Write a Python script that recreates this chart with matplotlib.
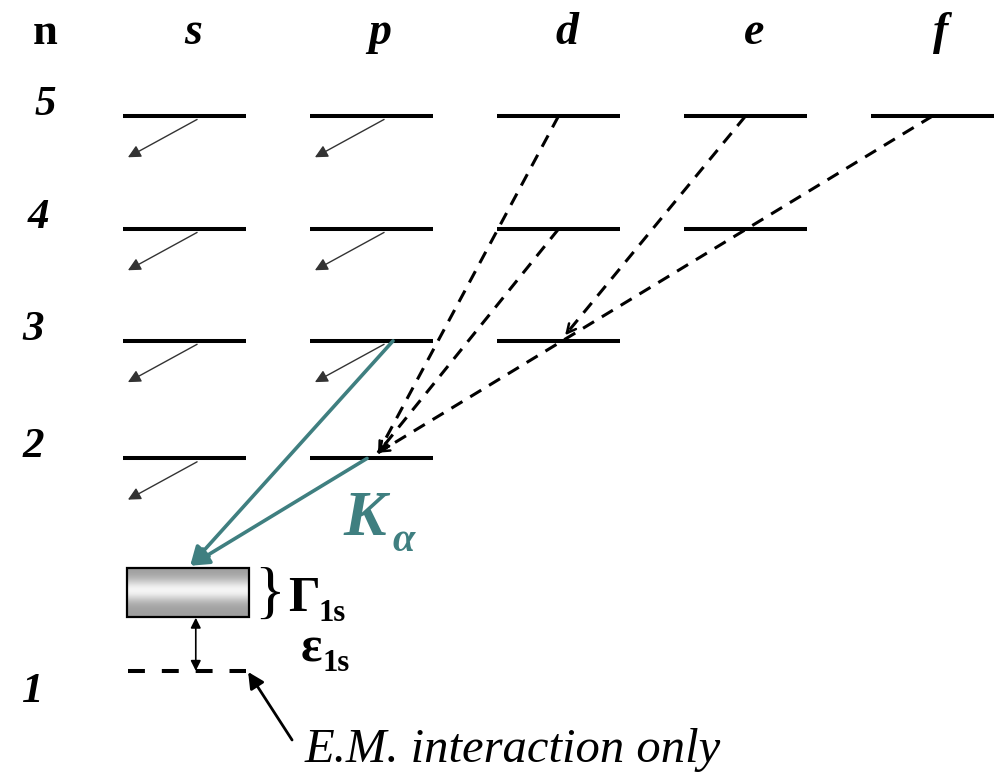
import numpy as np
import matplotlib.pyplot as plt
from matplotlib.patches import Rectangle

# level scheme (arbitrary energy units, higher = less bound)
orbitals = ['s', 'p', 'd', 'e', 'f']
n_values = [5, 4, 3, 2]
level_E = {5: 5.0, 4: 4.0, 3: 3.01, 2: 1.97}
E_1s_em = 0.09          # pure e.m. 1s level
eps_1s = 0.695          # strong-interaction shift (to box centre)
gamma_1s = 0.43         # strong-interaction width

# which sublevels exist for each n
states = {5: ['s', 'p', 'd', 'e', 'f'], 4: ['s', 'p', 'd', 'e'],
          3: ['s', 'p', 'd'], 2: ['s', 'p']}
# Stark-mixing / absorption arrows
stark = [(5, 's'), (4, 's'), (3, 's'), (2, 's'), (5, 'p'), (4, 'p'), (3, 'p')]
# radiative cascade transitions (dashed)
cascade = [((5, 'd'), (2, 'p')), ((4, 'd'), (2, 'p')),
           ((5, 'e'), (3, 'd')), ((5, 'f'), (2, 'p'))]
# X-ray transitions to 1s (teal)
xray = [(3, 'p'), (2, 'p')]

TEAL = '#3f7f80'
SERIF = 'Liberation Serif'
HW = 0.33   # half width of a level bar

col = {o: i for i, o in enumerate(orbitals)}

fig = plt.figure(figsize=(10, 7.74), dpi=100)
ax = fig.add_axes([0, 0, 1, 1])
ax.axis('off')

# level bars
for n in n_values:
    for o in states[n]:
        x = col[o]
        ax.plot([x - HW, x + HW], [level_E[n]] * 2, color='black', lw=2.9,
                solid_capstyle='butt')

# e.m. only 1s level
ax.plot([-0.3, 0.33], [E_1s_em] * 2, color='black', lw=2.9,
        linestyle=(0, (4.2, 4.2)), dash_capstyle='butt')

# shifted + broadened 1s level as a shaded box
E_c = E_1s_em + eps_1s
prof = np.linspace(-1, 1, 200)
grad = 0.62 + 0.34 * np.exp(-((prof + 0.1) / 0.45) ** 2)
ax.imshow(grad[:, None], cmap='gray', vmin=0, vmax=1, aspect='auto',
          extent=[-0.31, 0.345, E_c - gamma_1s / 2, E_c + gamma_1s / 2],
          origin='upper', zorder=2, interpolation='bilinear')
ax.add_patch(Rectangle((-0.31, E_c - gamma_1s / 2), 0.655, gamma_1s,
                       fill=False, ec='black', lw=1.6, zorder=3))
ax.set_xlim(-0.987, 4.361)
ax.set_ylim(-0.823, 6.027)

# Stark arrows
for n, o in stark:
    x0, y0 = col[o] + 0.067, level_E[n] - 0.03
    ax.annotate('', xy=(x0 - 0.37, y0 - 0.335), xytext=(x0, y0),
                arrowprops=dict(arrowstyle='-|>', color='#333333', lw=1.0,
                                mutation_scale=19, shrinkA=0, shrinkB=0))

# radiative cascade: dashed line plus a solid open head
for (n1, o1), (n2, o2) in cascade:
    x1, y1 = col[o1], level_E[n1]
    x2, y2 = col[o2] + 0.035, level_E[n2] + 0.05
    ax.plot([x1, x2], [y1, y2], color='black', lw=2.2,
            linestyle=(0, (4.2, 3.0)))
    ax.annotate('', xy=(x2, y2),
                xytext=(x2 + (x1 - x2) * 0.02, y2 + (y1 - y2) * 0.02),
                arrowprops=dict(arrowstyle='->', color='black', lw=1.8,
                                mutation_scale=16, shrinkA=0, shrinkB=0))

# X-ray lines to the 1s
offs = {3: 0.115, 2: -0.024}
for n, o in xray:
    ax.annotate('', xy=(0.03, E_c + gamma_1s / 2 + 0.02),
                xytext=(col[o] + offs[n], level_E[n]),
                arrowprops=dict(arrowstyle='-|>', color=TEAL, lw=2.6,
                                mutation_scale=28, shrinkA=0, shrinkB=0),
                zorder=4)

ax.text(0.85, 1.29, 'K', color=TEAL, fontsize=46, fontweight='bold',
        style='italic', family=SERIF, ha='left', va='baseline')
ax.text(1.11, 1.15, 'α', color=TEAL, fontsize=29, fontweight='bold',
        style='italic', family=SERIF, ha='left', va='baseline')

# shift arrow
ax.annotate('', xy=(0.06, E_1s_em), xytext=(0.06, E_c - gamma_1s / 2 - 0.01),
            arrowprops=dict(arrowstyle='<|-|>', color='black', lw=1.2,
                            mutation_scale=15, shrinkA=0, shrinkB=0))

# width brace and labels
ax.text(0.37, E_c - 0.04, '}', fontsize=46, family=SERIF, ha='left',
        va='center')
ax.text(0.555, 0.62, 'Γ', fontsize=36, fontweight='bold', family=SERIF,
        ha='left', va='baseline')
ax.text(0.715, 0.53, '1s', fontsize=22, fontweight='bold', family=SERIF,
        ha='left', va='baseline')
ax.text(0.62, 0.17, 'ε', fontsize=36, fontweight='bold', family=SERIF,
        ha='left', va='baseline')
ax.text(0.74, 0.09, '1s', fontsize=22, fontweight='bold', family=SERIF,
        ha='left', va='baseline')

# e.m. pointer
ax.annotate('', xy=(0.34, E_1s_em - 0.01), xytext=(0.575, -0.522),
            arrowprops=dict(arrowstyle='-|>', color='black', lw=2.0,
                            mutation_scale=24, shrinkA=0, shrinkB=0))
ax.text(0.644, -0.717, 'E.M. interaction only', fontsize=35, style='italic',
        family=SERIF, ha='left', va='baseline')

# header row
ax.text(-0.746, 5.637, 'n', fontsize=32, fontweight='bold', family=SERIF,
        ha='center', va='baseline')
for o in orbitals:
    ax.text(col[o] + 0.045, 5.637, o, fontsize=33, fontweight='bold',
            style='italic', family=SERIF, ha='center', va='baseline')

# n labels
lab_x = {5: -0.746, 4: -0.783, 3: -0.81, 2: -0.81}
for n in n_values:
    ax.text(lab_x[n], level_E[n] + 0.1, str(n), fontsize=31,
            fontweight='bold', style='italic', family=SERIF, ha='center',
            va='center')
ax.text(-0.81, E_1s_em - 0.19, '1', fontsize=31, fontweight='bold',
        style='italic', family=SERIF, ha='center', va='center')

plt.savefig('out.png', dpi=100, facecolor='white')
